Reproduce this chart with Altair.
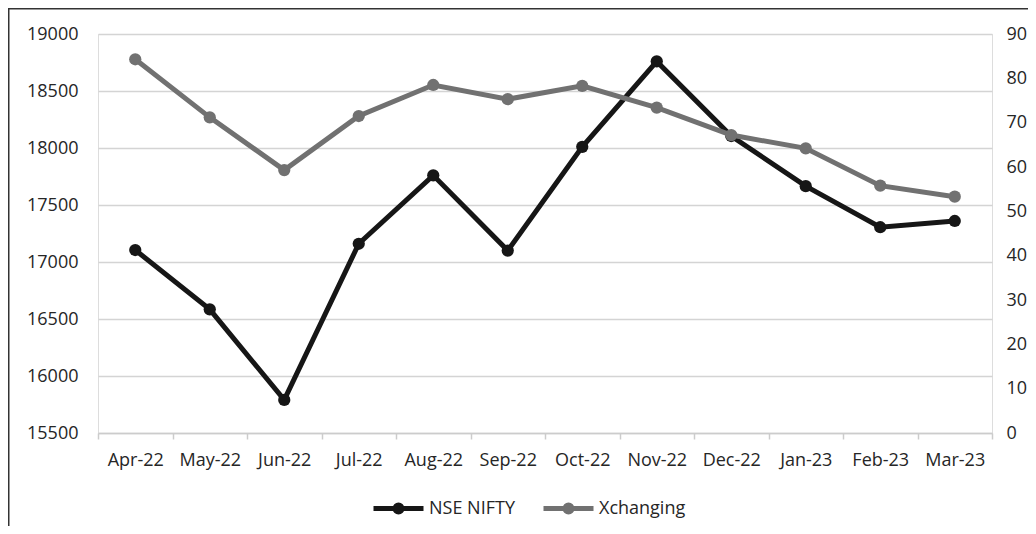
import altair as alt
import pandas as pd

months = ["Apr-22", "May-22", "Jun-22", "Jul-22", "Aug-22", "Sep-22",
          "Oct-22", "Nov-22", "Dec-22", "Jan-23", "Feb-23", "Mar-23"]
nifty = [17105, 16585, 15790, 17160, 17760, 17100, 18010, 18760, 18105, 17665, 17305, 17360]
xchanging = [84.3, 71.2, 59.3, 71.5, 78.5, 75.3, 78.3, 73.4, 67.2, 64.2, 55.8, 53.3]
series_names = ["NSE NIFTY", "Xchanging"]
series_colors = ["#161616", "#717171"]
left_ticks = list(range(15500, 19001, 500))
right_ticks = list(range(0, 91, 10))

df_n = pd.DataFrame({"month": months, "value": nifty, "series": series_names[0]})
df_x = pd.DataFrame({"month": months, "value": xchanging, "series": series_names[1]})

FONT = "Open Sans"
TXT = "#262626"

x_enc = alt.X(
    "month:N", sort=months,
    scale=alt.Scale(type="band", paddingInner=0, paddingOuter=0),
    axis=alt.Axis(title=None, labelAngle=0, labelFont=FONT, labelFontSize=18,
                  labelColor=TXT, domainColor="#cccccc", domainWidth=1.5,
                  tickColor="#cccccc", tickWidth=1.5, tickSize=6, tickBand="extent",
                  labelPadding=12, grid=False),
)

legend_path = "M-1,0L1,0M-0.14,0A0.14,0.14,0,1,1,0.14,0A0.14,0.14,0,1,1,-0.14,0Z"
color_enc = alt.Color(
    "series:N",
    scale=alt.Scale(domain=series_names, range=series_colors),
    legend=alt.Legend(title=None, orient="none", direction="horizontal",
                      legendX=273, legendY=447, symbolType=legend_path,
                      symbolSize=2500, symbolStrokeWidth=5, labelFont=FONT,
                      labelFontSize=18, labelColor=TXT, columnPadding=18,
                      labelOffset=3, padding=0),
)

y_left = alt.Y(
    "value:Q",
    scale=alt.Scale(domain=[15500, 19000], nice=False, zero=False),
    axis=alt.Axis(title=None, values=left_ticks, format="d", grid=True, gridColor="#d4d4d4",
                  gridWidth=1.5, domain=False, ticks=False, labelPadding=20,
                  labelFont=FONT, labelFontSize=18, labelColor=TXT),
)
y_right = alt.Y(
    "value:Q",
    scale=alt.Scale(domain=[0, 90], nice=False, zero=False),
    axis=alt.Axis(title=None, orient="right", values=right_ticks, format="d", grid=False,
                  domain=False, ticks=False, labelPadding=14,
                  labelFont=FONT, labelFontSize=18, labelColor=TXT),
)

base_n = alt.Chart(df_n)
left = alt.layer(
    base_n.mark_line(strokeWidth=5).encode(x=x_enc, y=y_left, color=color_enc),
    base_n.mark_point(filled=True, size=150, opacity=1).encode(x=x_enc, y=y_left, color=color_enc),
)
base_x = alt.Chart(df_x)
right = alt.layer(
    base_x.mark_line(strokeWidth=5).encode(x=x_enc, y=y_right, color=color_enc),
    base_x.mark_point(filled=True, size=150, opacity=1).encode(x=x_enc, y=y_right, color=color_enc),
)

frame_df = pd.DataFrame({"k": [0]})
frame_top = alt.Chart(frame_df).mark_rule(stroke="#333333", strokeWidth=1.5, strokeCap="butt").encode(
    x=alt.value(-90), x2=alt.value(930), y=alt.value(-25.25))
frame_left = alt.Chart(frame_df).mark_rule(stroke="#333333", strokeWidth=1.5, strokeCap="butt").encode(
    x=alt.value(-89.25), y=alt.value(-26), y2=alt.value(492))

chart = alt.layer(frame_top, frame_left, left, right).resolve_scale(y="independent").properties(
    width=894, height=399,
    autosize=alt.AutoSizeParams(type="none"),
    padding={"left": 90, "top": 26, "right": 36, "bottom": 93},
).configure_view(stroke=None).configure(background="white")

chart.save("out.html", embed_options={"renderer": "svg", "actions": False})
